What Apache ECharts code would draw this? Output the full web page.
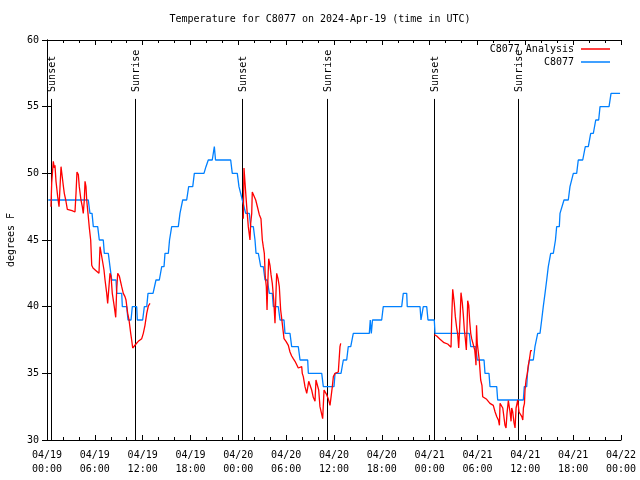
<!DOCTYPE html>
<html>
<head>
<meta charset="utf-8">
<script src="https://cdn.jsdelivr.net/npm/echarts@6/dist/echarts.min.js"></script>
<style>html,body{margin:0;padding:0;background:#fff;}#c{width:640px;height:480px;}</style>
</head>
<body>
<div id="c"></div>
<script>
// hours since 2024-04-19 00:00 UTC
const xTickLabels = ['04/19\n00:00','04/19\n06:00','04/19\n12:00','04/19\n18:00','04/20\n00:00','04/20\n06:00','04/20\n12:00','04/20\n18:00','04/21\n00:00','04/21\n06:00','04/21\n12:00','04/21\n18:00','04/22\n00:00'];

const obsC8077 = [[0.16,48],[5.18,48],[5.39,47],[5.65,47],[5.81,46],[6.36,46],[6.56,45],[7.06,45],[7.19,44],[7.69,44],[7.90,43],[8.03,43],[8.12,42],[8.66,42],[8.74,41],[9.37,41],[9.45,40],[10.00,40],[10.16,39],[10.54,39],[10.70,40],[11.25,40],[11.33,39],[12.00,39],[12.21,40],[12.51,40],[12.67,41],[13.30,41],[13.67,42],[14.09,42],[14.39,43],[14.68,43],[14.80,44],[15.22,44],[15.37,45],[15.64,46],[16.47,46],[16.68,47],[16.90,47],[17.02,48],[17.52,48],[17.77,49],[18.28,49],[18.48,50],[19.69,50],[19.94,50.5],[20.23,51],[20.73,51],[20.99,52],[21.14,51],[23.04,51],[23.24,50],[23.87,50],[24.08,49],[24.27,49],[24.50,48],[24.71,48],[24.92,47],[25.38,47],[25.55,46],[25.88,46],[26.09,45],[26.22,44],[26.51,44],[26.81,43],[27.13,43],[27.35,42],[27.63,42],[27.89,41],[28.26,41],[28.39,40],[29.01,40],[29.23,39],[29.73,39],[29.85,38],[30.48,38],[30.69,37],[31.52,37],[31.74,36],[32.70,36],[32.78,35],[34.46,35],[34.66,34],[36.00,34],[36.13,35],[36.88,35],[37.17,36],[37.59,36],[37.79,37],[38.10,37],[38.42,38],[40.43,38],[40.55,39],[40.68,38],[40.83,39],[41.98,39],[42.18,40],[44.49,40],[44.69,41],[45.12,41],[45.19,40],[46.79,40],[46.91,39],[47.08,39],[47.20,40],[47.63,40],[47.79,39],[48.58,39],[48.67,38],[52.97,38],[53.15,37],[53.77,37],[53.98,36],[54.82,36],[54.94,35],[55.44,35],[55.57,34],[56.41,34],[56.53,33],[59.75,33],[59.87,34],[60.17,34],[60.27,35],[60.50,36],[61.00,36],[61.21,37],[61.43,37],[61.55,38],[61.84,38],[62.05,39],[62.25,40],[62.47,41],[62.68,42],[62.88,43],[63.18,44],[63.51,44],[63.78,45],[63.93,46],[64.26,46],[64.35,47],[64.56,47],[64.85,48],[65.39,48],[65.60,49],[65.82,49],[66.02,50],[66.44,50],[66.64,51],[67.20,51],[67.52,52],[67.90,52],[68.20,53],[68.53,53],[68.83,54],[69.20,54],[69.37,55],[70.50,55],[70.75,56],[71.88,56]];

const analysisDay1 = [[0.50,47.5],[0.59,49.3],[0.79,50.9],[0.92,50.4],[1.00,50.6],[1.13,49.4],[1.25,48.75],[1.34,48.25],[1.51,47.5],[1.63,47.6],[1.76,50.5],[1.84,50.1],[2.04,49.1],[2.17,48.5],[2.35,48.0],[2.55,47.3],[3.14,47.2],[3.51,47.1],[3.64,48.5],[3.76,50.1],[3.93,49.9],[4.05,49.0],[4.26,48.0],[4.43,47.5],[4.55,47.0],[4.68,48.0],[4.77,49.4],[4.89,49.0],[4.98,48.0],[5.06,47.5],[5.18,46.75],[5.31,45.9],[5.48,45.0],[5.61,43.1],[5.77,42.9],[6.15,42.7],[6.52,42.5],[6.65,44.5],[6.77,44.5],[6.94,43.5],[7.15,42.75],[7.28,42.0],[7.49,41.0],[7.61,40.25],[7.69,40.25],[7.90,42.5],[8.03,42.3],[8.19,41.0],[8.44,40.0],[8.62,39.2],[8.74,41.25],[8.87,42.5],[9.07,42.3],[9.37,41.5],[9.57,41.0],[9.78,40.75],[9.91,40.5],[10.12,39.5],[10.29,39.0],[10.50,38.0],[10.62,37.5],[10.75,36.9],[10.95,36.9],[11.16,37.2],[11.45,37.4],[11.88,37.6],[12.08,38.0],[12.29,38.6],[12.51,39.5],[12.71,40.05],[12.92,40.25]];

const analysisDay2 = [[24.62,46.6],[24.71,50.4],[24.84,50.4],[24.93,48.5],[25.05,47.5],[25.25,46.0],[25.46,45.0],[25.55,46.25],[25.68,47.0],[25.75,48.6],[25.96,48.5],[26.18,48.0],[26.43,47.4],[26.63,46.9],[26.84,46.6],[27.01,45.0],[27.13,44.5],[27.26,44.0],[27.38,42.25],[27.51,41.5],[27.60,39.75],[27.68,41.5],[27.81,43.6],[27.97,43.1],[28.10,42.4],[28.26,41.75],[28.44,40.5],[28.60,38.75],[28.72,41.0],[28.81,42.5],[28.98,42.1],[29.14,41.5],[29.31,39.75],[29.51,38.75],[29.73,37.6],[29.98,37.4],[30.27,37.1],[30.48,36.6],[30.69,36.3],[30.89,36.1],[31.11,35.9],[31.32,35.75],[31.52,35.4],[31.74,35.3],[31.95,35.5],[32.02,35.0],[32.15,34.75],[32.36,34.0],[32.58,33.5],[32.70,33.5],[32.83,34.4],[32.99,34.25],[33.20,33.75],[33.40,33.2],[33.62,32.9],[33.74,34.5],[33.95,34.5],[34.08,33.75],[34.24,32.5],[34.46,32.5],[34.58,31.6],[34.75,33.75],[34.96,33.75],[35.08,33.4],[35.28,33.1],[35.50,32.6],[35.63,32.5],[35.79,34.0],[35.92,34.75],[36.13,35.0],[36.54,35.1],[36.67,35.2],[36.75,37.0],[36.84,37.25]];

const analysisDay3 = [[48.58,37.9],[48.88,37.8],[49.08,37.75],[49.30,37.55],[49.51,37.4],[49.80,37.3],[50.05,37.3],[50.26,37.2],[50.46,37.1],[50.68,36.95],[50.76,39.0],[50.89,41.3],[51.01,41.3],[51.09,40.25],[51.22,39.25],[51.39,38.4],[51.52,37.9],[51.64,36.9],[51.72,37.9],[51.84,39.5],[51.93,41.05],[52.09,40.3],[52.22,39.4],[52.35,38.25],[52.47,37.6],[52.60,36.75],[52.68,38.25],[52.77,40.45],[52.90,40.1],[53.02,38.9],[53.15,38.0],[53.27,37.6],[53.40,37.75],[53.52,37.5],[53.65,36.75],[53.77,36.0],[53.81,35.6],[53.88,38.6],[53.97,37.25],[54.10,37.3],[54.22,36.0],[54.40,34.5],[54.56,34.1],[54.65,33.25],[54.85,33.2],[55.15,33.05],[55.35,32.9],[55.56,32.75],[55.77,32.7],[55.98,32.6],[56.21,32.1],[56.42,31.75],[56.62,31.5],[56.75,31.1],[56.83,32.75],[57.05,32.75],[57.17,32.4],[57.30,31.8],[57.45,31.1],[57.58,30.9],[57.70,32.0],[57.87,32.95],[57.99,32.9],[58.08,32.1],[58.21,31.4],[58.29,32.4],[58.42,32.1],[58.58,31.3],[58.71,30.9],[58.84,32.4],[58.96,32.3],[59.05,33.0],[59.21,32.1],[59.38,32.0],[59.56,31.75],[59.68,31.5],[59.76,32.4],[59.89,32.75],[59.96,33.75],[60.09,34.5],[60.25,35.0],[60.37,35.6],[60.50,36.0],[60.67,36.7],[60.84,36.7]];

const sunEvents = [[0.54,'Sunset'],[11.08,'Sunrise'],[24.50,'Sunset'],[35.06,'Sunrise'],[48.58,'Sunset'],[59.12,'Sunrise']];

const FONT = 'DejaVu Sans Mono';
const RED = '#ff0000';
const BLUE = '#0080ff';
const SUN_LINE_TOP = 55.58;

const chart = echarts.init(document.getElementById('c'), null, {renderer: 'canvas'});

const axisCommon = {
  type: 'value',
  axisLine: {show: true, lineStyle: {color: '#000', width: 1}},
  splitLine: {show: false}
};

function redSeries(data) {
  return {
    name: 'C8077 Analysis', type: 'line', data: data, symbol: 'none',
    lineStyle: {color: RED, width: 1.3}, itemStyle: {color: RED}, z: 3
  };
}

function legendFor(name, top, color) {
  return {
    data: [{name: name, icon: 'rect', itemStyle: {color: color}}],
    right: 30, top: top, padding: 0, align: 'right', itemWidth: 29, itemHeight: 1.5,
    textStyle: {fontFamily: FONT, fontSize: 10, color: '#000', padding: [0, 2, 0, 0]}
  };
}

const option = {
  animation: false,
  backgroundColor: '#fff',
  title: {
    text: 'Temperature for C8077 on 2024-Apr-19 (time in UTC)',
    left: 'center', top: 14, padding: 0,
    textStyle: {fontFamily: FONT, fontSize: 10, fontWeight: 'normal', color: '#000'}
  },
  legend: [
    legendFor('C8077 Analysis', 44, RED),
    legendFor('C8077', 57, BLUE)
  ],
  grid: {left: 47, right: 19, top: 40, bottom: 40, containLabel: false, outerBoundsMode: 'none'},
  xAxis: [
    Object.assign({}, axisCommon, {
      position: 'bottom', min: 0, max: 72, interval: 6,
      axisTick: {show: true, inside: true, length: 5, lineStyle: {color: '#000'}},
      minorTick: {show: true, splitNumber: 3, length: 3, lineStyle: {color: '#000'}},
      axisLabel: {
        show: true, margin: 8, fontFamily: FONT, fontSize: 10, color: '#000', lineHeight: 14,
        formatter: function (v) { return xTickLabels[Math.round(v / 6)]; }
      }
    }),
    Object.assign({}, axisCommon, {
      position: 'top', min: 0, max: 72, interval: 6,
      axisTick: {show: true, inside: true, length: 5, lineStyle: {color: '#000'}},
      minorTick: {show: true, splitNumber: 3, length: 3, lineStyle: {color: '#000'}},
      axisLabel: {show: false}
    })
  ],
  yAxis: [
    Object.assign({}, axisCommon, {
      position: 'left', min: 30, max: 60, interval: 5,
      name: 'degrees F', nameLocation: 'middle', nameRotate: 90, nameGap: 31,
      nameTextStyle: {fontFamily: FONT, fontSize: 10, color: '#000'},
      axisTick: {show: true, inside: true, length: 5, lineStyle: {color: '#000'}},
      axisLabel: {show: true, margin: 8, fontFamily: FONT, fontSize: 10, color: '#000'}
    }),
    Object.assign({}, axisCommon, {
      position: 'right', min: 30, max: 60, interval: 5,
      axisTick: {show: true, inside: true, length: 5, lineStyle: {color: '#000'}},
      axisLabel: {show: false}
    })
  ],
  series: [
    {
      name: 'sun', type: 'custom', data: sunEvents, silent: true, z: 1,
      encode: {x: 0},
      renderItem: function (params, api) {
        const x = Math.round(api.coord([api.value(0), 30])[0]) + 0.5;
        const yBottom = api.coord([0, 30])[1];
        const yTop = api.coord([0, SUN_LINE_TOP])[1];
        const label = sunEvents[params.dataIndex][1];
        return {
          type: 'group',
          children: [
            {type: 'line', shape: {x1: x, y1: yBottom, x2: x, y2: yTop}, style: {stroke: '#000', lineWidth: 1}},
            {type: 'text', x: x + 1, y: yTop - 7, rotation: Math.PI / 2,
             style: {text: label, fontFamily: FONT, fontSize: 10, fill: '#000', align: 'left', verticalAlign: 'middle'}}
          ]
        };
      }
    },
    redSeries(analysisDay1),
    redSeries(analysisDay2),
    redSeries(analysisDay3),
    {
      name: 'C8077', type: 'line', data: obsC8077, symbol: 'none',
      lineStyle: {color: BLUE, width: 1.3}, itemStyle: {color: BLUE}, z: 2
    }
  ]
};

chart.setOption(option);
</script>
</body>
</html>
